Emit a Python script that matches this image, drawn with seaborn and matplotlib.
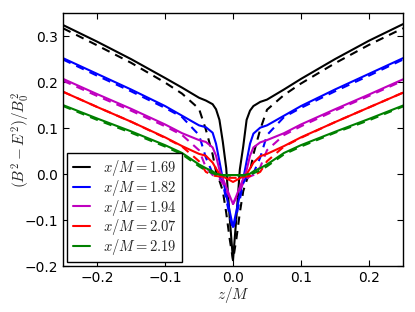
import numpy as np
import pandas as pd
import matplotlib
matplotlib.use("Agg")
import matplotlib.pyplot as plt
import seaborn as sns

# z/M sample positions
z = [-0.25, -0.2, -0.15, -0.1, -0.075, -0.05, -0.04, -0.03, -0.025, -0.02, -0.015, -0.01, -0.005, 0.0,
     0.005, 0.01, 0.015, 0.02, 0.025, 0.03, 0.04, 0.05, 0.075, 0.1, 0.15, 0.2, 0.25]

labels = ["$x/M=1.69$", "$x/M=1.82$", "$x/M=1.94$", "$x/M=2.07$", "$x/M=2.19$"]
colors = ["k", "b", "m", "r", "g"]

# solid curves
solid_169 = [0.324, 0.288, 0.250, 0.209, 0.188, 0.166, 0.160, 0.152, 0.141, 0.118, 0.070, 0.013, -0.093, -0.187,
             -0.093, 0.010, 0.060, 0.118, 0.138, 0.148, 0.157, 0.162, 0.184, 0.207, 0.250, 0.290, 0.326]
solid_182 = [0.252, 0.218, 0.184, 0.148, 0.127, 0.106, 0.102, 0.090, 0.066, 0.028, -0.011, -0.045, -0.080, -0.115,
             -0.080, -0.045, -0.011, 0.028, 0.066, 0.088, 0.101, 0.106, 0.127, 0.148, 0.184, 0.218, 0.252]
solid_194 = [0.207, 0.174, 0.142, 0.108, 0.089, 0.074, 0.070, 0.058, 0.040, 0.009, -0.010, -0.028, -0.047, -0.065,
             -0.047, -0.028, -0.010, 0.009, 0.040, 0.058, 0.069, 0.074, 0.089, 0.108, 0.141, 0.173, 0.206]
solid_207 = [0.179, 0.146, 0.114, 0.080, 0.061, 0.044, 0.040, 0.025, 0.012, 0.000, -0.005, -0.009, -0.013, -0.017,
             -0.013, -0.009, -0.005, 0.000, 0.012, 0.025, 0.039, 0.044, 0.061, 0.080, 0.113, 0.145, 0.177]
solid_219 = [0.150, 0.121, 0.093, 0.063, 0.046, 0.021, 0.013, 0.006, 0.001, -0.001, -0.002, -0.002, -0.002, -0.002,
             -0.002, -0.002, -0.002, -0.001, 0.001, 0.006, 0.013, 0.021, 0.046, 0.063, 0.092, 0.120, 0.149]

# dashed curves
dashed_169 = [0.317, 0.280, 0.242, 0.199, 0.175, 0.142, 0.097, 0.043, 0.006, -0.014, -0.037, -0.084, -0.140, -0.187,
              -0.140, -0.084, -0.037, -0.014, 0.006, 0.043, 0.097, 0.140, 0.172, 0.197, 0.241, 0.281, 0.317]
dashed_182 = [0.249, 0.214, 0.180, 0.144, 0.124, 0.085, 0.036, 0.002, -0.001, -0.005, -0.020, -0.055, -0.090, -0.120,
              -0.090, -0.055, -0.020, -0.005, -0.001, 0.002, 0.036, 0.085, 0.124, 0.144, 0.180, 0.214, 0.249]
dashed_194 = [0.203, 0.170, 0.138, 0.104, 0.085, 0.052, 0.015, -0.002, -0.005, -0.010, -0.020, -0.035, -0.050, -0.065,
              -0.050, -0.035, -0.020, -0.010, -0.005, -0.002, 0.015, 0.052, 0.085, 0.104, 0.138, 0.170, 0.203]
dashed_207 = [0.179, 0.146, 0.114, 0.079, 0.060, 0.028, 0.005, -0.003, -0.004, -0.005, -0.006, -0.007, -0.008, -0.008,
              -0.008, -0.007, -0.006, -0.005, -0.004, -0.003, 0.005, 0.028, 0.060, 0.079, 0.113, 0.145, 0.177]
dashed_219 = [0.148, 0.118, 0.090, 0.060, 0.043, 0.017, 0.008, 0.002, -0.001, -0.003, -0.003, -0.003, -0.003, -0.003,
              -0.003, -0.003, -0.003, -0.003, -0.001, 0.002, 0.008, 0.017, 0.043, 0.060, 0.090, 0.117, 0.147]

solids = [solid_169, solid_182, solid_194, solid_207, solid_219]
dasheds = [dashed_169, dashed_182, dashed_194, dashed_207, dashed_219]

sns.set_style("ticks")
plt.rcParams["mathtext.fontset"] = "cm"
plt.rcParams["font.family"] = ["DejaVu Sans"]

fig = plt.figure(figsize=(4.15, 3.12), dpi=100)
ax = fig.add_axes([0.152, 0.147, 0.819, 0.811])

handles = []
for lab, c, s, d in zip(labels, colors, solids, dasheds):
    df = pd.DataFrame({"z": z, "solid": s, "dashed": d})
    sns.lineplot(data=df, x="z", y="dashed", ax=ax, color=c, lw=1.5,
                 linestyle=(0, (4, 3)), sort=False, legend=False)
    sns.lineplot(data=df, x="z", y="solid", ax=ax, color=c, lw=1.5,
                 sort=False, legend=False)
    handles.append(ax.lines[-1])

ax.set_xlim(-0.25, 0.25)
ax.set_ylim(-0.2, 0.35)
ax.set_xticks([-0.2, -0.1, 0.0, 0.1, 0.2])
ax.set_yticks([-0.2, -0.1, 0.0, 0.1, 0.2, 0.3])
ax.tick_params(direction="in", top=True, right=True, length=4, width=0.8,
               labelsize=10, colors="k", pad=3.5)
for sp in ax.spines.values():
    sp.set_color("k")
    sp.set_linewidth(1.0)

ax.set_xlabel("$z/M$", fontsize=11)
ax.set_ylabel("$(B^2-E^2)/B_0^2$", fontsize=11)
ax.xaxis.set_label_coords(0.5, -0.075)
ax.yaxis.set_label_coords(-0.092, 0.5)

leg = ax.legend(handles, labels, loc="lower left", fontsize=10.5, handlelength=1.2,
                handletextpad=0.9, labelspacing=-0.03, borderaxespad=0.3,
                fancybox=False, framealpha=1, edgecolor="k", borderpad=0.35)
leg.get_frame().set_linewidth(1.0)

fig.savefig("out.png", dpi=100)
